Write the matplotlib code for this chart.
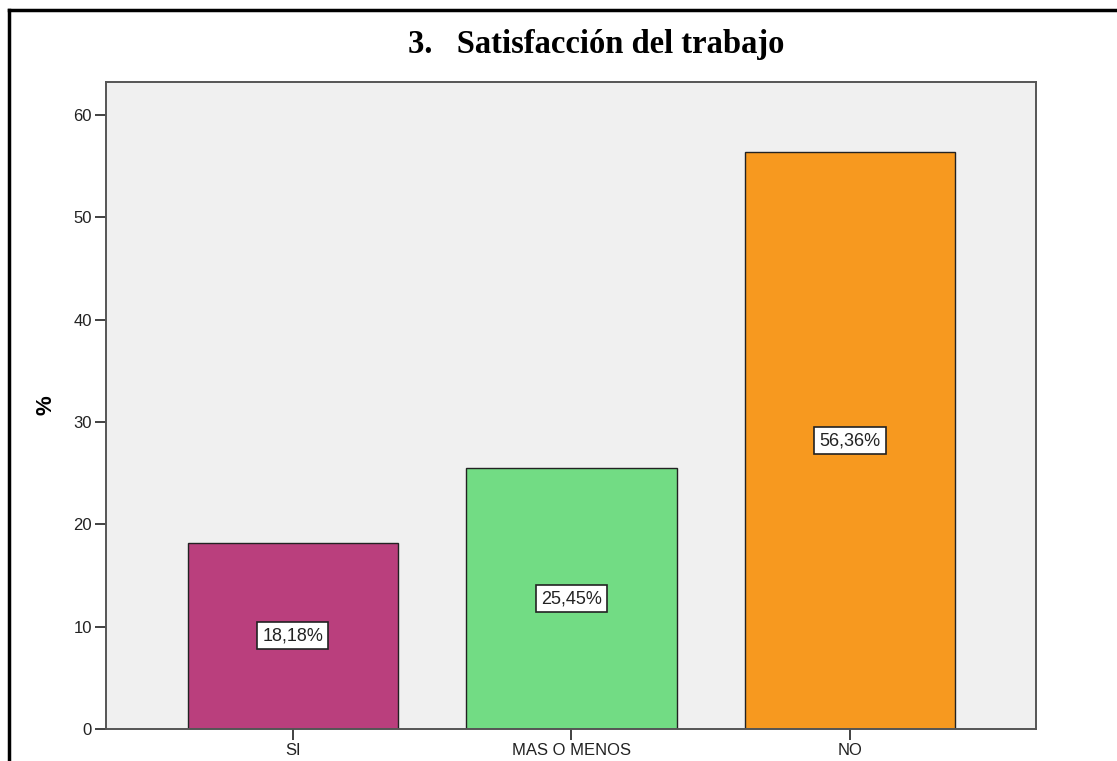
import matplotlib.pyplot as plt
import matplotlib as mpl
from matplotlib.lines import Line2D

mpl.rcParams.update({
    'font.family': 'sans-serif',
    'font.sans-serif': ['Liberation Sans', 'DejaVu Sans'],
    'font.size': 12,
})

# ---------- data ----------
categories = ['SI', 'MAS O MENOS', 'NO']
percents = [18.18, 25.45, 56.36]
bar_labels = ['18,18%', '25,45%', '56,36%']
colors = ['#BA3F7D', '#72DC84', '#F7991F']
yticks = [0, 10, 20, 30, 40, 50, 60]

W, H = 1117, 761
fig = plt.figure(figsize=(W / 100, H / 100), dpi=100)
# axes box in pixel coordinates: left 106, right 1036, top 82, bottom 729
ax = fig.add_axes([106 / W, 1 - 729 / H, (1036 - 106) / W, (729 - 82) / H])
ax.set_facecolor('#F0F0F0')

x = range(len(categories))
ax.bar(x, percents, width=0.755, color=colors, edgecolor='#222222',
       linewidth=1.0, zorder=2)

for xi, val, lab in zip(x, percents, bar_labels):
    ax.text(xi, val / 2, lab, ha='center', va='center', fontsize=13,
            color='#222222', zorder=3,
            bbox=dict(boxstyle='square,pad=0.28', facecolor='white',
                      edgecolor='#222222', linewidth=1.2))

ax.set_xlim(-0.671, 2.668)
ax.set_ylim(0, 63.2)
ax.set_xticks(list(x))
ax.set_xticklabels(categories, color='#222222')
ax.set_yticks(yticks)
ax.set_yticklabels([str(t) for t in yticks], color='#222222')
ax.tick_params(axis='both', direction='out', length=8, width=1.3,
               color='#333333', pad=2)
for s in ax.spines.values():
    s.set_color('#555555')
    s.set_linewidth(1.4)

ax.set_ylabel('%', fontsize=16, fontweight='bold', labelpad=12)

fig.text(596 / W, 1 - 44 / H, '3.   Satisfacción del trabajo',
         ha='center', va='center', fontsize=23.5, fontweight='bold',
         family='Liberation Serif', color='black')

# outer frame (left and top edges only, cropped image)
fig.add_artist(Line2D([9 / W, 9 / W], [0, 1 - 10 / H], transform=fig.transFigure,
                      color='black', linewidth=2.5))
fig.add_artist(Line2D([9 / W, 1], [1 - 10 / H, 1 - 10 / H], transform=fig.transFigure,
                      color='black', linewidth=2.5))

fig.savefig('out.png', dpi=100, facecolor='white')
